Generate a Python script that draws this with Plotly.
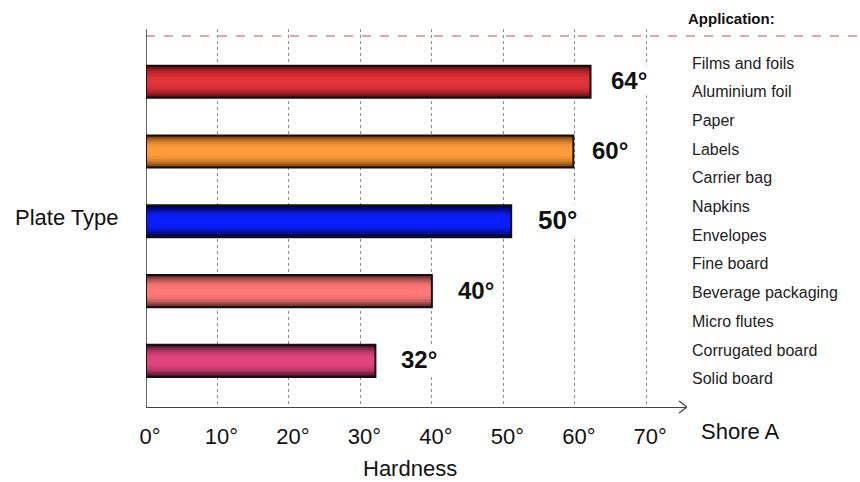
import plotly.graph_objects as go

# ---- data ----
plate_types = ["64", "60", "50", "40", "32"]
bar_lengths = [62.2, 59.8, 51.1, 40.0, 32.1]
value_labels = ["64°", "60°", "50°", "40°", "32°"]
tick_vals = [0, 10, 20, 30, 40, 50, 60, 70]
tick_text = ["0°", "10°", "20°", "30°", "40°", "50°", "60°", "70°"]
applications = ["Films and foils", "Aluminium foil", "Paper", "Labels", "Carrier bag",
                "Napkins", "Envelopes", "Fine board", "Beverage packaging",
                "Micro flutes", "Corrugated board", "Solid board"]

# edge and centre colours for the cylinder-like gradient of each bar
bar_edge = ["#5a0a0c", "#6e3806", "#00002e", "#5a2828", "#461026"]
bar_mid = ["#e2323a", "#ff9c3c", "#0a1eff", "#ff7a78", "#e2447e"]
N_LAYERS = 9
BAR_W = 0.46

W, H = 860, 482
L, R, T, B = 146, 173, 29, 75
plot_h = H - T - B
plot_w = W - L - R

def py(pix):
    return (H - B - pix) / plot_h

def px(pix):
    return (pix - L) / plot_w

def hex2rgb(h):
    h = h.lstrip("#")
    return [int(h[i:i + 2], 16) for i in (0, 2, 4)]

def mix(c1, c2, t):
    a, b = hex2rgb(c1), hex2rgb(c2)
    return "rgb(%d,%d,%d)" % tuple(round(a[k] + (b[k] - a[k]) * t) for k in range(3))

FONT = "Liberation Sans, Arial, sans-serif"

fig = go.Figure()
ypos = list(range(len(plate_types)))
for li in range(N_LAYERS):
    t = li / (N_LAYERS - 1)
    w = BAR_W * (1 - 0.85 * t)
    ease = 1 - (1 - t) ** 2.2
    fig.add_trace(go.Bar(
        x=bar_lengths, y=ypos, orientation="h", width=w,
        marker=dict(color=[mix(e, m, ease) for e, m in zip(bar_edge, bar_mid)],
                    line=dict(color="rgba(0,0,0,0)", width=0)),
        showlegend=False, hoverinfo="skip"))
# outline
fig.add_trace(go.Bar(
    x=bar_lengths, y=ypos, orientation="h", width=BAR_W,
    marker=dict(color="rgba(0,0,0,0)", line=dict(color="#111111", width=2)),
    showlegend=False, hoverinfo="skip"))

# value labels
label_sizes = [24, 24, 26, 24, 24]
label_shift = [18, 17, 25, 24, 24]
for i, (v, t) in enumerate(zip(bar_lengths, value_labels)):
    fig.add_annotation(x=v, y=i, xref="x", yref="y", text="<b>%s</b>" % t,
                       showarrow=False, xanchor="left", yanchor="middle",
                       xshift=label_shift[i], yshift=1,
                       font=dict(family=FONT, size=label_sizes[i], color="#111"),
                       bgcolor="white")

# application list
fig.add_annotation(x=px(686), y=py(18), xref="paper", yref="paper",
                   text="<b>Application:</b>", showarrow=False, xanchor="left",
                   yanchor="middle", font=dict(family=FONT, size=15, color="#111"))
for k, a in enumerate(applications):
    fig.add_annotation(x=px(690), y=py(63 + k * 28.7), xref="paper", yref="paper",
                       text=a, showarrow=False, xanchor="left", yanchor="middle",
                       font=dict(family=FONT, size=16, color="#222"))

fig.add_annotation(x=px(67), y=py(217), xref="paper", yref="paper", text="Plate Type",
                   showarrow=False, xanchor="center", yanchor="middle",
                   font=dict(family=FONT, size=22, color="#111"))
fig.add_annotation(x=px(699), y=py(432), xref="paper", yref="paper", text="Shore A",
                   showarrow=False, xanchor="left", yanchor="middle",
                   font=dict(family=FONT, size=22, color="#111"))
fig.add_annotation(x=px(410), y=py(468), xref="paper", yref="paper", text="Hardness",
                   showarrow=False, xanchor="center", yanchor="middle",
                   font=dict(family=FONT, size=22, color="#111"))

# dashed red line
fig.add_shape(type="line", xref="paper", yref="paper", x0=0, x1=px(860),
              y0=py(36), y1=py(36), line=dict(color="#d04848", width=1, dash="dash"))
# arrow head on x axis
fig.add_shape(type="path", xref="x", yref="paper", xsizemode="pixel", ysizemode="pixel",
              xanchor=75.7, yanchor=0, path="M -8,-6 L 0,0 L -8,6",
              line=dict(color="#444", width=1.3))

fig.update_layout(
    width=W, height=H, margin=dict(l=L, r=R, t=T, b=B, autoexpand=False),
    paper_bgcolor="white", plot_bgcolor="white", barmode="overlay",
    xaxis=dict(range=[0, 75.7], tickvals=tick_vals, ticktext=tick_text,
               showgrid=True, gridcolor="#8a8a8a", griddash="dot", gridwidth=1,
               showline=True, linecolor="#444", linewidth=1.3, zeroline=False,
               ticks="", ticklabelstandoff=9, ticklabelshift=4, automargin=False,
               tickfont=dict(family=FONT, size=22, color="#111")),
    yaxis=dict(range=[4.66, -0.755], showticklabels=False, showgrid=False,
               zeroline=False, showline=False, automargin=False),
)
fig.add_shape(type="line", xref="x", yref="paper", x0=0, x1=0, y0=0, y1=1,
              line=dict(color="#111", width=1.3))

fig.write_html("out.html")
